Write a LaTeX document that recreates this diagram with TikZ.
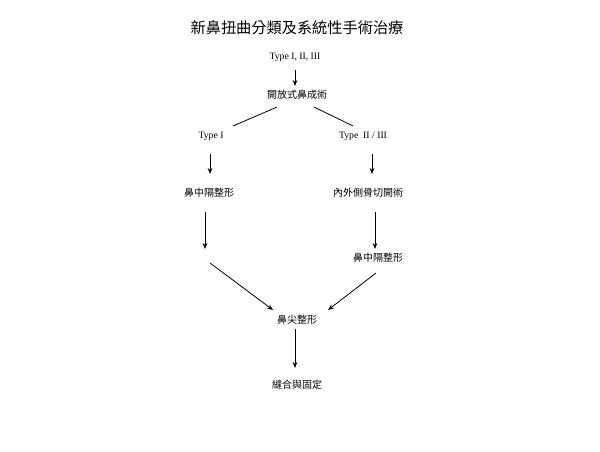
\documentclass[tikz,border=0pt]{standalone}
\usepackage{fontspec}
\setmainfont{Liberation Serif}
\newfontfamily\cjk{Noto Sans CJK TC}
\usetikzlibrary{arrows.meta}
\begin{document}
\begin{tikzpicture}[x=0.75pt,y=-0.75pt,
  lbl/.style={inner sep=0pt,font=\cjk\fontsize{7.5pt}{9pt}\selectfont},
  typ/.style={inner sep=0pt,font=\fontsize{7.3pt}{9pt}\selectfont},
  arr/.style={line width=0.6pt,-{Stealth[length=4.5pt,width=3.5pt]}},
  ln/.style={line width=0.6pt}]
\useasboundingbox[fill=white] (0,0) rectangle (600,451);
\node[inner sep=0pt,font=\cjk\fontsize{11.4pt}{13pt}\selectfont] (title) at (297,28) {新鼻扭曲分類及系統性手術治療};
\node[typ] (t0) at (295,57) {Type I, II, III};
\node[lbl] (open) at (297,95) {開放式鼻成術};
\node[typ] (t1) at (211,136) {Type I};
\node[typ] (t2) at (363,136) {Type\ \ II / III};
\node[lbl] (sL) at (209,193) {鼻中隔整形};
\node[lbl] (ost) at (368,193) {內外側骨切開術};
\node[lbl] (sR) at (378,258) {鼻中隔整形};
\node[lbl] (tip) at (297,320) {鼻尖整形};
\node[lbl] (fix) at (297,385) {縫合與固定};
\coordinate (a0s) at (295,70); \coordinate (a0e) at (295,86);
\coordinate (lLs) at (277,107); \coordinate (lLe) at (233,126);
\coordinate (lRs) at (314,107); \coordinate (lRe) at (353,126);
\coordinate (a1s) at (210,154); \coordinate (a1e) at (210,174);
\coordinate (a2s) at (372,154); \coordinate (a2e) at (372,174);
\coordinate (a3s) at (205,212); \coordinate (a3e) at (205,249);
\coordinate (a4s) at (375,212); \coordinate (a4e) at (375,249);
\coordinate (d1s) at (210,263); \coordinate (d1e) at (273,310);
\coordinate (d2s) at (376,273); \coordinate (d2e) at (328,310);
\coordinate (a5s) at (295,329); \coordinate (a5e) at (295,368);
\draw[arr] (a0s) -- (a0e);
\draw[ln] (lLs) -- (lLe);
\draw[ln] (lRs) -- (lRe);
\draw[arr] (a1s) -- (a1e);
\draw[arr] (a2s) -- (a2e);
\draw[arr] (a3s) -- (a3e);
\draw[arr] (a4s) -- (a4e);
\draw[arr] (d1s) -- (d1e);
\draw[arr] (d2s) -- (d2e);
\draw[arr] (a5s) -- (a5e);
\end{tikzpicture}
\end{document}
